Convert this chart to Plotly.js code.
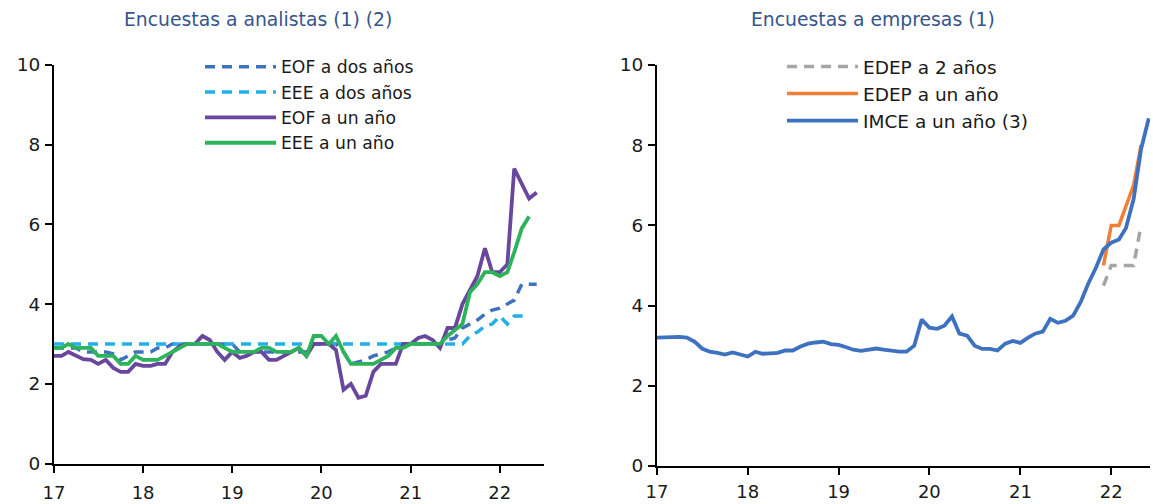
<!DOCTYPE html>
<html>
<head>
<meta charset="utf-8">
<script src="https://cdn.plot.ly/plotly-3.0.1.min.js"></script>
<style>html,body{margin:0;padding:0;background:#fff;}#chart{width:1153px;height:504px;}</style>
</head>
<body>
<div id="chart"></div>
<script>
// Monthly categories, Jan 2017 onwards
const startYear = 2017;
const months = [];
for (let i = 0; i < 66; i++) {
  const y = startYear + Math.floor(i / 12);
  const m = (i % 12) + 1;
  months.push(y + '-' + String(m).padStart(2, '0') + '-01');
}
const yearTicks = ['2017-01-01','2018-01-01','2019-01-01','2020-01-01','2021-01-01','2022-01-01'];
const yearLabels = ['17','18','19','20','21','22'];
const yTicks = [0, 2, 4, 6, 8, 10];

// Encuestas a analistas
const eofDosAnos = [2.9,2.9,2.9,2.9,2.8,2.8,2.8,2.8,2.75,2.6,2.7,2.8,2.8,2.8,2.9,2.9,
  3.0,3.0,3.0,3.0,3.0,3.0,3.0,3.0,3.0,
  2.8,2.8,2.8,2.8,2.8,2.8,2.8,2.8,2.8,2.8,
  3.0,3.0,3.0,3.0,
  2.8,2.5,2.55,2.6,2.7,2.75,2.8,2.9,
  3.0,3.0,3.0,3.0,3.0,3.0,
  3.1,3.15,3.4,3.5,3.6,3.75,3.85,3.9,4.0,4.1,4.5,4.5,4.5];
const eeeDosAnos = [3.0,3.0,3.0,3.0,3.0,3.0,3.0,3.0,3.0,3.0,3.0,3.0,3.0,3.0,3.0,3.0,
  3.0,3.0,3.0,3.0,3.0,3.0,3.0,3.0,3.0,3.0,3.0,3.0,3.0,3.0,3.0,3.0,3.0,3.0,3.0,3.0,
  3.0,3.0,3.0,3.0,3.0,3.0,3.0,3.0,3.0,3.0,3.0,3.0,3.0,3.0,3.0,3.0,3.0,3.0,3.0,3.0,
  3.2,3.3,3.45,3.5,3.7,3.5,3.7,3.7,3.7];
const eofUnAno = [2.7,2.7,2.8,2.7,2.62,2.6,2.5,2.6,2.4,2.3,
  2.3,2.5,2.45,2.45,2.5,2.5,2.8,2.95,3.0,3.0,
  3.2,3.1,2.8,2.6,2.8,2.65,2.7,2.8,2.8,2.6,
  2.6,2.7,2.8,2.9,2.7,3.0,3.0,3.0,2.85,1.85,
  2.0,1.65,1.7,2.3,2.5,2.5,2.5,3.0,3.0,3.15,
  3.2,3.1,2.9,3.4,3.4,4.0,4.35,4.7,5.4,4.8,
  4.8,5.0,7.4,7.0,6.65,6.8];
const eeeUnAno = [2.9,2.9,3.0,2.9,2.9,2.9,2.7,2.7,2.7,2.5,
  2.5,2.7,2.6,2.6,2.6,2.7,2.8,2.9,3.0,3.0,
  3.0,3.0,3.0,2.9,2.8,2.8,2.8,2.8,2.9,2.9,
  2.8,2.8,2.8,2.9,2.7,3.2,3.2,3.0,3.2,2.8,
  2.5,2.5,2.5,2.5,2.6,2.7,2.9,2.9,3.0,3.0,
  3.0,3.0,3.0,3.2,3.35,3.5,4.3,4.5,4.8,4.8,
  4.7,4.8,5.3,5.9,6.2];

// Encuestas a empresas
const imceUnAno = [3.2,3.21,3.23,3.22,3.2,3.1,2.93,2.85,2.82,2.78,
  2.83,2.77,2.73,2.85,2.8,2.81,2.82,2.88,2.88,2.98,
  3.05,3.08,3.1,3.04,3.02,2.96,2.9,2.87,2.9,2.93,
  2.9,2.87,2.85,2.85,3.0,3.65,3.45,3.42,3.5,3.73,
  3.3,3.25,3.0,2.92,2.92,2.88,3.05,3.12,3.07,3.2,
  3.3,3.35,3.67,3.57,3.62,3.75,4.1,4.55,4.95,5.4,
  5.57,5.65,5.93,6.65,7.9,8.67];
const edepMonths = months.slice(59, 65);
const edepUnAno = [5.0,6.0,6.0,6.5,7.0,8.0];
const edepDosAnos = [4.5,5.0,5.0,5.0,5.0,6.0];

const FONT = 'DejaVu Sans, Open Sans, sans-serif';
const W = 1153, H = 504;

function line(x, y, name, color, dash, width, xa, ya, leg) {
  return {
    x: x, y: y, name: name, type: 'scatter', mode: 'lines',
    line: {color: color, width: width, dash: dash},
    xaxis: xa, yaxis: ya, legend: leg, hoverinfo: 'skip'
  };
}

const traces = [
  line(months.slice(0, eofDosAnos.length), eofDosAnos, 'EOF a dos años', '#3F72BE', '10px,7px', 3.5, 'x', 'y', 'legend'),
  line(months.slice(0, eeeDosAnos.length), eeeDosAnos, 'EEE a dos años', '#22B0E6', '10px,7px', 3.5, 'x', 'y', 'legend'),
  line(months.slice(0, eofUnAno.length), eofUnAno, 'EOF a un año', '#6A479E', 'solid', 3.8, 'x', 'y', 'legend'),
  line(months.slice(0, eeeUnAno.length), eeeUnAno, 'EEE a un año', '#2DB35A', 'solid', 3.8, 'x', 'y', 'legend'),
  line(edepMonths, edepDosAnos, 'EDEP a 2 años', '#A5A5A5', '10px,7px', 3.5, 'x2', 'y2', 'legend2'),
  line(edepMonths, edepUnAno, 'EDEP a un año', '#F07F35', 'solid', 3.5, 'x2', 'y2', 'legend2'),
  line(months.slice(0, imceUnAno.length), imceUnAno, 'IMCE a un año (3)', '#3E72C0', 'solid', 3.8, 'x2', 'y2', 'legend2')
];

const xCommon = {
  type: 'date', tickmode: 'array', tickvals: yearTicks, ticktext: yearLabels,
  showgrid: false, zeroline: false, showline: true, linecolor: '#000', linewidth: 2,
  ticks: 'outside', ticklen: 7, tickwidth: 2, tickcolor: '#000',
  ticklabelstandoff: 5,
  tickfont: {family: FONT, size: 18, color: '#1a1a1a'}
};
const yCommon = {
  range: [0, 10], tickmode: 'array', tickvals: yTicks,
  showgrid: false, zeroline: false, showline: true, linecolor: '#000', linewidth: 2,
  ticks: 'outside', ticklen: 7, tickwidth: 2, tickcolor: '#000',
  ticklabelstandoff: 1,
  tickfont: {family: FONT, size: 18.5, color: '#1a1a1a'}
};

const layout = {
  width: W, height: H,
  margin: {l: 0, r: 0, t: 0, b: 0, autoexpand: false},
  paper_bgcolor: '#fff', plot_bgcolor: 'rgba(0,0,0,0)',
  showlegend: true,
  xaxis: Object.assign({}, xCommon, {domain: [54 / W, 544 / W], range: ['2017-01-01', '2022-07-01'], anchor: 'y'}),
  yaxis: Object.assign({}, yCommon, {domain: [1 - 463.5 / H, 1 - 65 / H], anchor: 'x'}),
  xaxis2: Object.assign({}, xCommon, {domain: [657 / W, 1150 / W], range: ['2017-01-01', '2022-06-06'], anchor: 'y2', ticklabelstandoff: 1}),
  yaxis2: Object.assign({}, yCommon, {domain: [1 - 466 / H, 1 - 65 / H], anchor: 'x2'}),
  legend: {
    x: 200 / W, y: 1 - 49 / H, xanchor: 'left', yanchor: 'top',
    bgcolor: 'rgba(0,0,0,0)', borderwidth: 0, itemwidth: 71,
    font: {family: FONT, size: 17.2, color: '#1a1a1a'}, tracegroupgap: 0
  },
  legend2: {
    x: 782 / W, y: 1 - 48 / H, xanchor: 'left', yanchor: 'top',
    bgcolor: 'rgba(0,0,0,0)', borderwidth: 0, itemwidth: 71,
    font: {family: FONT, size: 18.5, color: '#1a1a1a'}, tracegroupgap: 0
  },
  annotations: [
    {text: 'Encuestas a analistas (1) (2)', xref: 'paper', yref: 'paper', x: 258 / W, y: 1 - 20 / H,
     xanchor: 'center', yanchor: 'middle', showarrow: false,
     font: {family: FONT, size: 18.8, color: '#35568C'}},
    {text: 'Encuestas a empresas (1)', xref: 'paper', yref: 'paper', x: 873 / W, y: 1 - 20 / H,
     xanchor: 'center', yanchor: 'middle', showarrow: false,
     font: {family: FONT, size: 18.8, color: '#35568C'}}
  ]
};

Plotly.newPlot('chart', traces, layout, {staticPlot: true, displayModeBar: false});
</script>
</body>
</html>
